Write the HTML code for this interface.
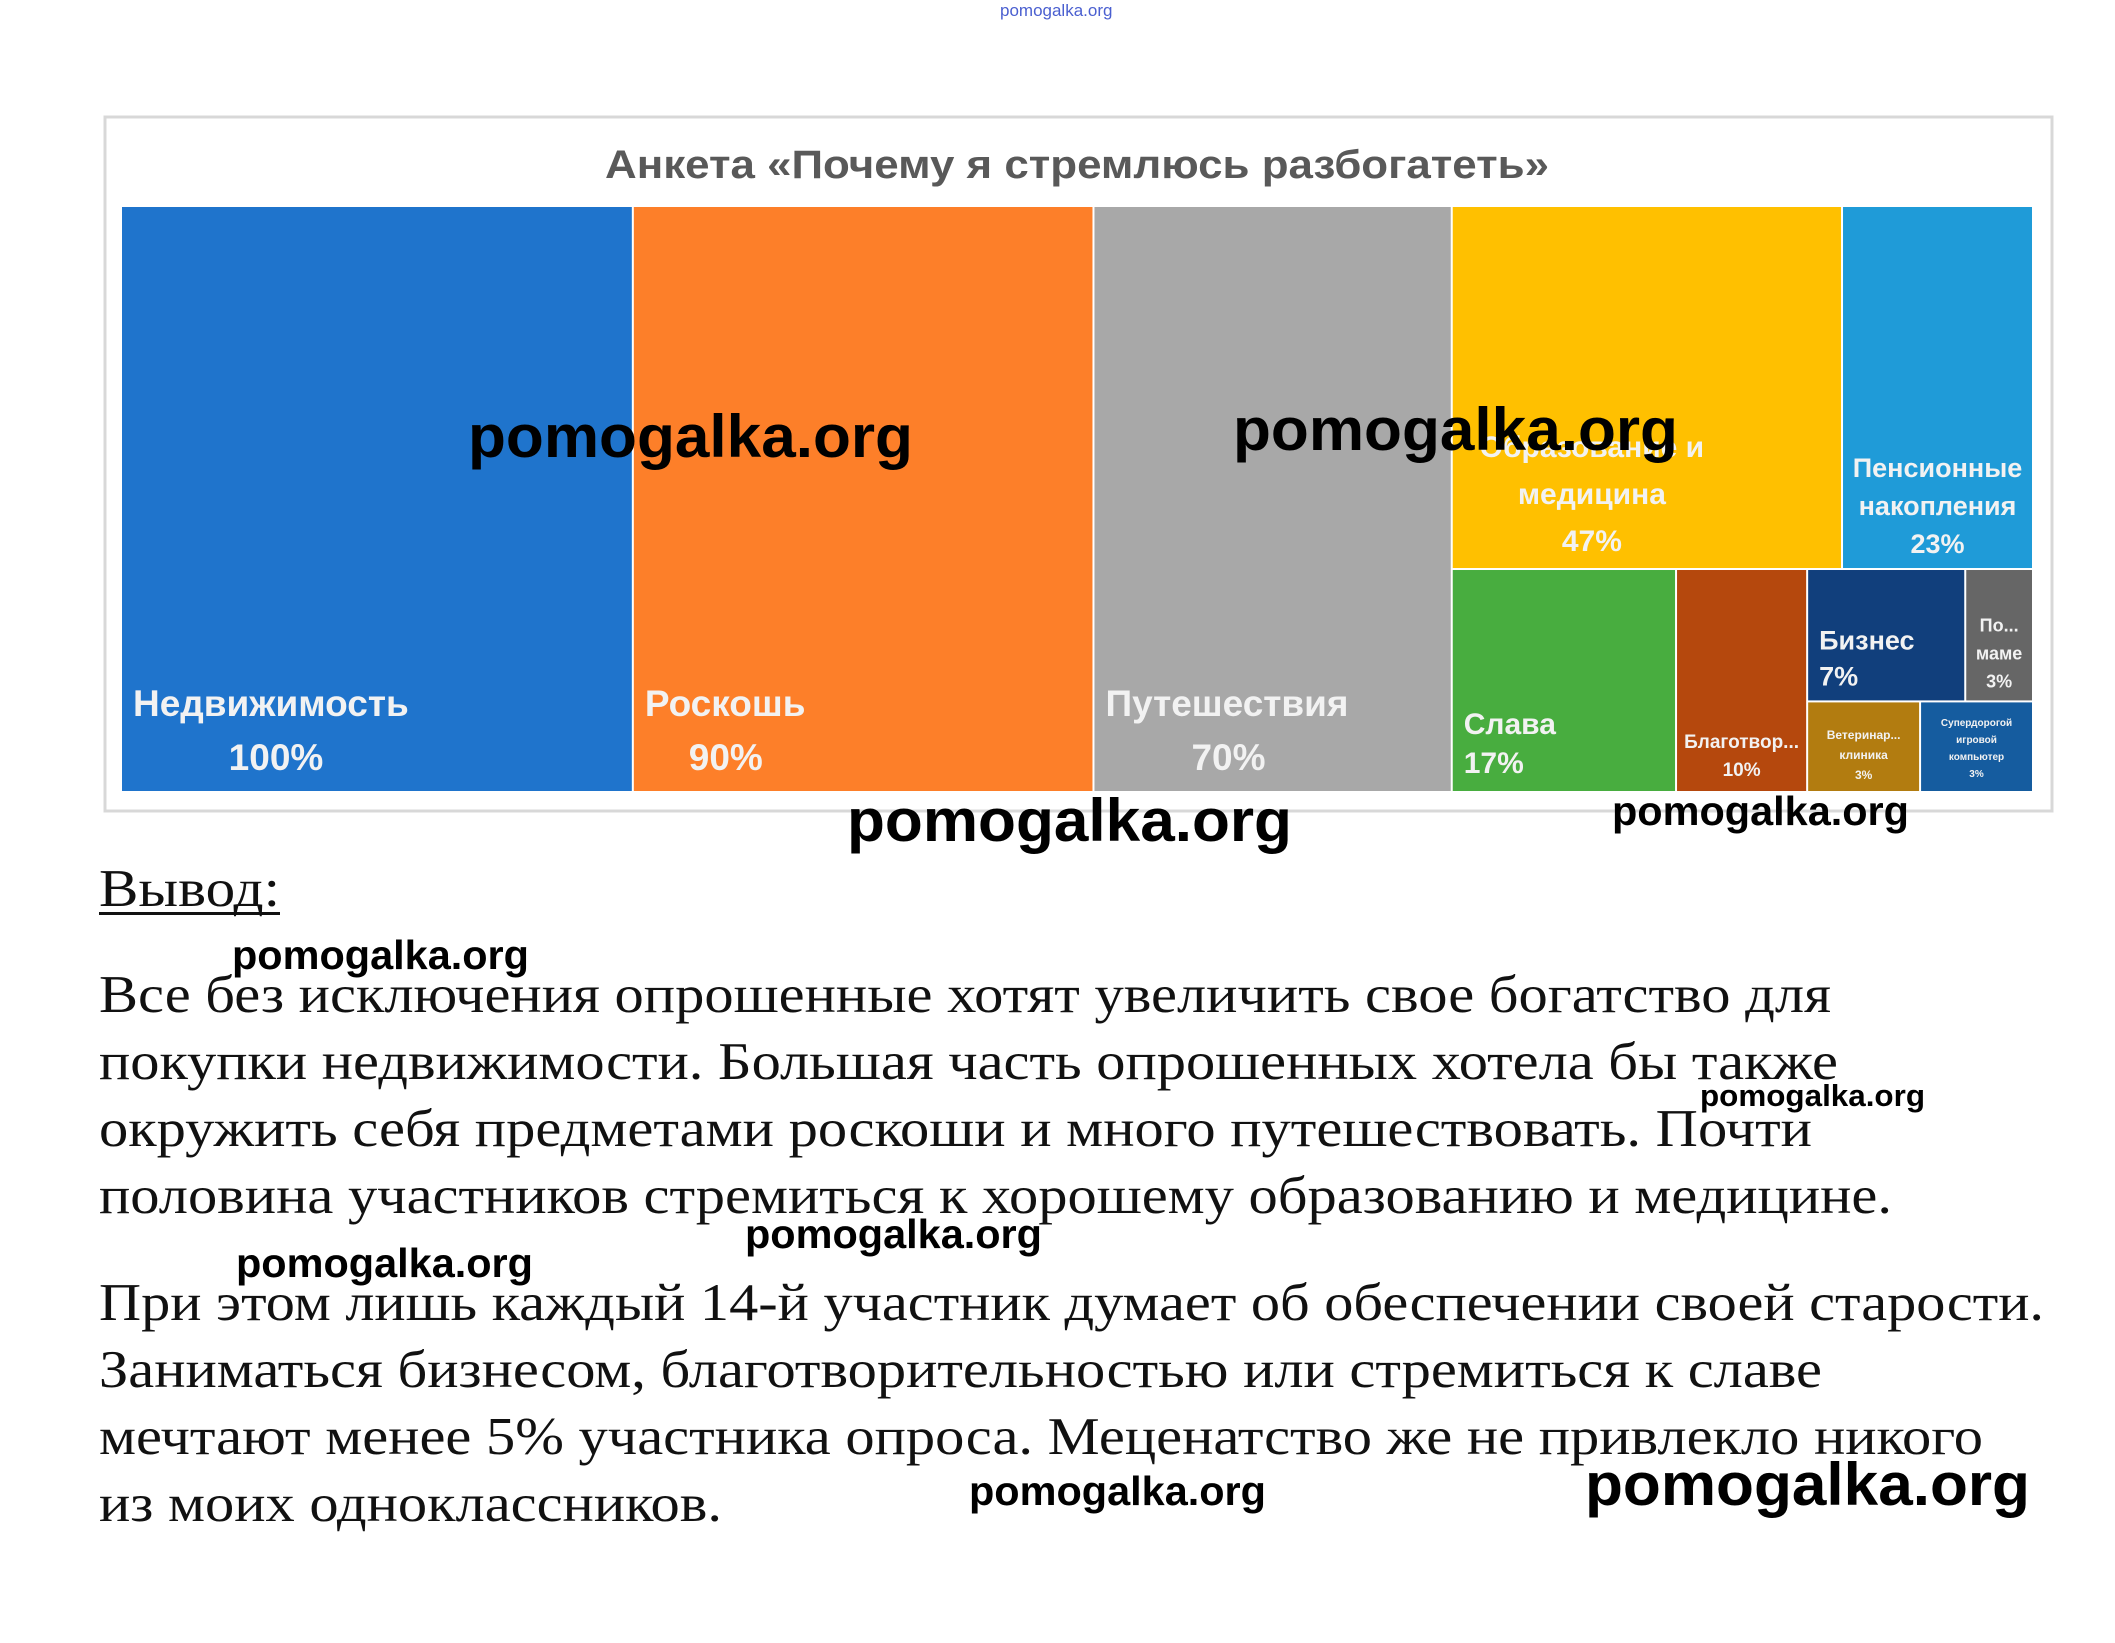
<!DOCTYPE html>
<html><head><meta charset="utf-8"><style>
html,body{margin:0;padding:0;background:#fff;}
svg{display:block;}
</style></head><body>
<svg id="page" width="2115" height="1643" viewBox="0 0 2115 1643" xmlns="http://www.w3.org/2000/svg">
<text x="1000" y="16" font-family="Liberation Sans, sans-serif" font-size="17" fill="#4a5fd0">pomogalka.org</text>
<rect x="105" y="117" width="1947" height="694" fill="#fff" stroke="#d8d8d8" stroke-width="3"/>
<text x="605" y="178" textLength="944" lengthAdjust="spacingAndGlyphs" font-family="Liberation Sans, sans-serif" font-weight="bold" font-size="40" fill="#595959">Анкета «Почему я стремлюсь разбогатеть»</text>
<g id="tree"></g>
<g id="labels" font-family="Liberation Sans, sans-serif" font-weight="bold" fill="#f2f2f2"></g>

<g font-family="Liberation Serif, serif" font-size="53" fill="#111">
<text x="99" y="906" textLength="181" lengthAdjust="spacingAndGlyphs">Вывод:</text>
<rect x="99" y="912" width="181" height="3" fill="#111"/>
<text x="99" y="1012" textLength="1732" lengthAdjust="spacingAndGlyphs">Все без исключения опрошенные хотят увеличить свое богатство для</text>
<text x="99" y="1079" textLength="1739" lengthAdjust="spacingAndGlyphs">покупки недвижимости. Большая часть опрошенных хотела бы также</text>
<text x="99" y="1146" textLength="1713" lengthAdjust="spacingAndGlyphs">окружить себя предметами роскоши и много путешествовать. Почти</text>
<text x="99" y="1213" textLength="1793" lengthAdjust="spacingAndGlyphs">половина участников стремиться к хорошему образованию и медицине.</text>
<text x="99" y="1320" textLength="1945" lengthAdjust="spacingAndGlyphs">При этом лишь каждый 14-й участник думает об обеспечении своей старости.</text>
<text x="99" y="1387" textLength="1723" lengthAdjust="spacingAndGlyphs">Заниматься бизнесом, благотворительностью или стремиться к славе</text>
<text x="99" y="1454" textLength="1884" lengthAdjust="spacingAndGlyphs">мечтают менее 5% участника опроса. Меценатство же не привлекло никого</text>
<text x="99" y="1521" textLength="623" lengthAdjust="spacingAndGlyphs">из моих одноклассников.</text>
</g>

<g font-family="Liberation Sans, sans-serif" font-weight="bold" fill="#000">
<text x="468" y="457" font-size="60" textLength="445" lengthAdjust="spacingAndGlyphs">pomogalka.org</text>
<text x="1233" y="450" font-size="60" textLength="445" lengthAdjust="spacingAndGlyphs">pomogalka.org</text>
<text x="847" y="841" font-size="60" textLength="445" lengthAdjust="spacingAndGlyphs">pomogalka.org</text>
<text x="1612" y="825" font-size="41" textLength="297" lengthAdjust="spacingAndGlyphs">pomogalka.org</text>
<text x="232" y="969" font-size="41" textLength="297" lengthAdjust="spacingAndGlyphs">pomogalka.org</text>
<text x="1700" y="1106" font-size="31" textLength="225" lengthAdjust="spacingAndGlyphs">pomogalka.org</text>
<text x="745" y="1248" font-size="41" textLength="297" lengthAdjust="spacingAndGlyphs">pomogalka.org</text>
<text x="236" y="1277" font-size="41" textLength="297" lengthAdjust="spacingAndGlyphs">pomogalka.org</text>
<text x="969" y="1505" font-size="41" textLength="297" lengthAdjust="spacingAndGlyphs">pomogalka.org</text>
<text x="1585" y="1505" font-size="60" textLength="445" lengthAdjust="spacingAndGlyphs">pomogalka.org</text>
</g>
</svg>
<script>
const categories = ["Недвижимость","Роскошь","Путешествия","Образование и медицина","Пенсионные накопления","Слава","Благотворительность","Бизнес","По маме","Ветеринарная клиника","Супердорогой игровой компьютер"];
const values = [100,90,70,47,23,17,10,7,3,3,3];
const colors = ["#1f74cc","#fd7f29","#a8a8a8","#ffc000","#1f9bd8","#48ad3f","#b5480d","#113f7c","#666666","#b27c10","#155c9f"];

const NS="http://www.w3.org/2000/svg";
const X0=121,Y0=206,W=1912,H=586,G=2;
const tree=document.getElementById('tree');
const rects=[];
function place(i,x,y,w,h){rects[i]={x:x,y:y,w:w,h:h};}
const colW = v => v/ (values[0]+values[1]+values[2]) * (W*0.696);
let x=X0;
for(let i=0;i<3;i++){const w=colW(values[i]);place(i,x,Y0,w,H);x+=w;}
const gx=x,gw=X0+W-x;
const rest=values.slice(3).reduce((a,b)=>a+b,0);
const topH=H*(values[3]+values[4])/rest;
place(3,gx,Y0,gw*values[3]/(values[3]+values[4]),topH);
place(4,gx+rects[3].w,Y0,gw-rects[3].w,topH);
const by=Y0+topH,bh=H-topH;
const small=values[7]+values[8]+values[9]+values[10];
const bsum=values[5]+values[6]+small;
const w5=gw*values[5]/bsum*0.976, w6=gw*values[6]/bsum*0.97;
place(5,gx,by,w5,bh);
place(6,gx+w5,by,w6,bh);
const sx=gx+w5+w6,sw=gw-w5-w6;
const sh1=bh*(values[7]+values[8])/small*0.95;
place(7,sx,by,sw*values[7]/(values[7]+values[8]),sh1);
place(8,sx+rects[7].w,by,sw-rects[7].w,sh1);
place(9,sx,by+sh1,sw*values[9]/(values[9]+values[10]),bh-sh1);
place(10,sx+rects[9].w,by+sh1,sw-rects[9].w,bh-sh1);
rects.forEach((r,i)=>{
  const e=document.createElementNS(NS,'rect');
  e.setAttribute('x',r.x+1);e.setAttribute('y',r.y+1);
  e.setAttribute('width',Math.max(0,r.w-G));e.setAttribute('height',Math.max(0,r.h-G));
  e.setAttribute('fill',colors[i]);
  
  
  tree.appendChild(e);
});
const L=document.getElementById('labels');
function lab(i,lines,fs,align,lh,dy,off){
  const r=rects[i];
  lines.forEach((t,k)=>{
    const e=document.createElementNS(NS,'text');
    let xx;
    if(align==='start'){xx=r.x+12;}else{xx=r.x+r.w/2+(off||0);e.setAttribute('text-anchor','middle');}
    e.setAttribute('x',xx);
    e.setAttribute('y',dy(r)+k*lh);
    e.setAttribute('font-size',fs);
    e.textContent=t;
    
    
    L.appendChild(e);
  });
}
const pct=i=>values[i]+'%';
lab(0,["Недвижимость"],37,'start',0,r=>r.y+r.h-76);
lab(1,["Роскошь"],37,'start',0,r=>r.y+r.h-76);
lab(2,["Путешествия"],37,'start',0,r=>r.y+r.h-76);
[[0,155],[1,93],[2,135]].forEach(([i,o])=>{const e=document.createElementNS(NS,'text');e.setAttribute('x',rects[i].x+o);e.setAttribute('y',rects[i].y+rects[i].h-22);e.setAttribute('font-size',37);e.setAttribute('text-anchor','middle');e.textContent=pct(i);


L.appendChild(e);});
lab(3,["Образование и","медицина",pct(3)],30,'middle',47,r=>r.y+r.h-112,-55);
lab(4,["Пенсионные","накопления",pct(4)],27,'middle',38,r=>r.y+r.h-92);
lab(5,["Слава",pct(5)],30,'start',39,r=>r.y+r.h-58);
lab(6,["Благотвор...",pct(6)],19,'middle',28,r=>r.y+r.h-44);
lab(7,["Бизнес",pct(7)],27,'start',36,r=>r.y+r.h-52);
lab(8,["По...","маме",pct(8)],18,'middle',28,r=>r.y+r.h-70);
lab(9,["Ветеринар...","клиника",pct(9)],12,'middle',20,r=>r.y+r.h-53);
lab(10,["Супердорогой","игровой","компьютер",pct(10)],10,'middle',17,r=>r.y+r.h-66);
</script>
</body></html>
